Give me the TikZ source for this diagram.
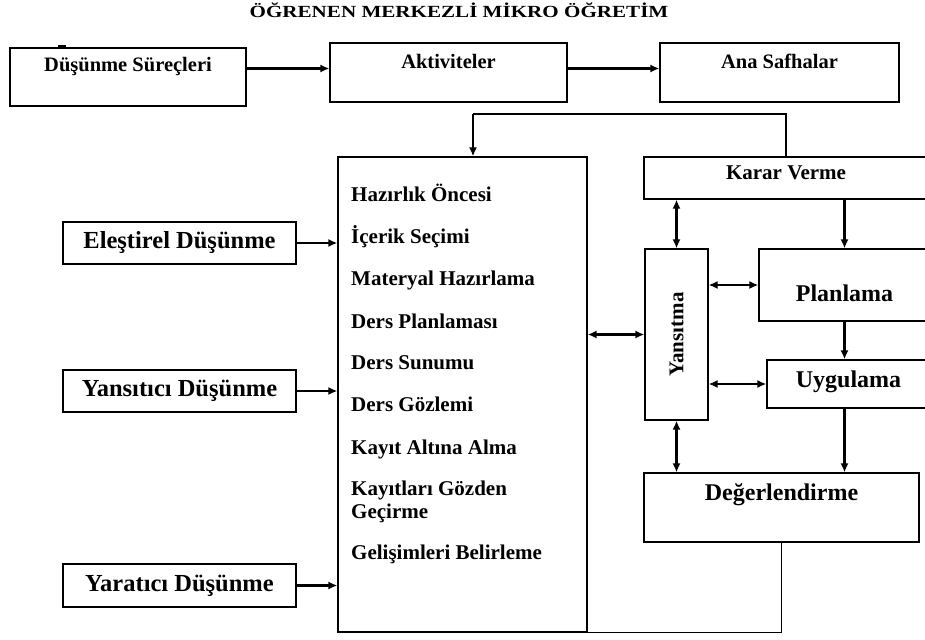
\documentclass[tikz,border=0pt]{standalone}
\usepackage{fontspec}
\setmainfont{Liberation Serif}
\usetikzlibrary{arrows.meta}
\newcommand{\yazi}[1]{\fontsize{#1}{#1}\selectfont\bfseries}

\begin{document}
\begin{tikzpicture}[x=1pt,y=-1pt,
    kutu/.style={draw, line width=1.2pt, inner sep=0pt, align=center},
    ok/.style={-{Latex[length=9pt,width=8pt]}, line width=2.2pt},
    ciftok/.style={{Latex[length=9pt,width=8pt]}-{Latex[length=9pt,width=8pt]}, line width=2.2pt},
    ince/.style={line width=1.2pt}]
    \clip (0,0) rectangle (925,639);

    %Baslik
    \node[font=\yazi{17}] (baslik) at (459,10) {\scalebox{1.24}[1]{ÖĞRENEN MERKEZLİ MİKRO ÖĞRETİM}};

    %Ust satir
    \node[kutu, font=\yazi{20.5}, minimum width=236pt, text height=23.5pt, text depth=34.5pt] (surec) at (128,77) {Düşünme Süreçleri};
    \node[kutu, font=\yazi{20.5}, minimum width=237pt, text height=25.5pt, text depth=33.5pt] (aktivite) at (448.5,72.5) {Aktiviteler};
    \node[kutu, font=\yazi{20.5}, minimum width=239pt, text height=25.5pt, text depth=33.5pt] (safha) at (779.5,72.5) {Ana Safhalar};
    \draw[line width=2pt] (58,46) -- (66,46);
    \draw[ok] (surec.east |- aktivite.base) -- (aktivite.base -| aktivite.west);
    \draw[ok] (aktivite.east |- aktivite.base) -- (safha.base -| safha.west);

    %Dusunme turleri
    \node[kutu, font=\yazi{24.5}, minimum width=233pt, minimum height=42pt] (elestirel) at (179.5,243) {Eleştirel Düşünme};
    \node[kutu, font=\yazi{24.5}, minimum width=233pt, minimum height=42pt] (yansitici) at (179.5,391) {Yansıtıcı Düşünme};
    \node[kutu, font=\yazi{24.5}, minimum width=233pt, minimum height=43pt] (yaratici) at (179.5,585.5) {Yaratıcı Düşünme};

    %Ana asamalar kutusu
    \node[kutu, minimum width=249pt, minimum height=475pt] (asama) at (462.5,394.5) {};
    \foreach \y/\t [count=\i] in {201.5/Hazırlık Öncesi, 243.5/İçerik Seçimi, 285.5/Materyal Hazırlama,
        328.5/Ders Planlaması, 369.5/Ders Sunumu, 411.5/Ders Gözlemi, 454.5/Kayıt Altına Alma,
        495.5/Kayıtları Gözden, 518.5/Geçirme, 559.5/Gelişimleri Belirleme}
        \node[anchor=base west, inner sep=0pt, font=\yazi{21}] (m\i) at (351,\y) {\t};

    \draw[ok] (elestirel.east) -- (elestirel.east -| asama.west);
    \draw[ok] (yansitici.east) -- (yansitici.east -| asama.west);
    \draw[ok] (yaratici.east) -- (yaratici.east -| asama.west);

    %Sag taraf
    \node[kutu, font=\yazi{21}, minimum width=284pt, text height=22.5pt, text depth=19.5pt] (karar) at (786,178) {Karar Verme};
    \node[kutu, minimum width=63pt, minimum height=171pt] (yansitma) at (676.5,334.5) {\yazi{21}\rotatebox{90}{Yansıtma}};
    \node[kutu, font=\yazi{24}, minimum width=171pt, text height=52pt, text depth=20pt] (planlama) at (844.5,285) {Planlama};
    \node[kutu, font=\yazi{24}, minimum width=163pt, text height=27.5pt, text depth=20.5pt] (uygulama) at (848.5,384) {Uygulama};
    \node[kutu, font=\yazi{24}, minimum width=275pt, text height=27pt, text depth=42pt] (degerlendirme) at (781.5,507.5) {Değerlendirme};

    \coordinate (ust) at (473,114);
    \draw[ince] (karar.north) |- (ust);
    \draw[ok] (ust) -- (ust |- asama.north);

    \draw[ciftok] (yansitma.north |- karar.south) -- (yansitma.north);
    \draw[ok] (karar.south -| planlama.north) -- (planlama.north);
    \draw[ciftok] (yansitma.east |- planlama.west) -- (planlama.west);
    \draw[ciftok] (asama.east |- yansitma.west) -- (yansitma.west);
    \draw[ok] (planlama.south) -- (planlama.south |- uygulama.north);
    \draw[ciftok] (yansitma.east |- uygulama.west) -- (uygulama.west);
    \draw[ok, line width=3pt] (planlama.south |- uygulama.south) -- (planlama.south |- degerlendirme.north);
    \draw[ciftok] (yansitma.south) -- (yansitma.south |- degerlendirme.north);
    \draw[ince] (degerlendirme.south) |- (asama.south east);
\end{tikzpicture}
\end{document}
